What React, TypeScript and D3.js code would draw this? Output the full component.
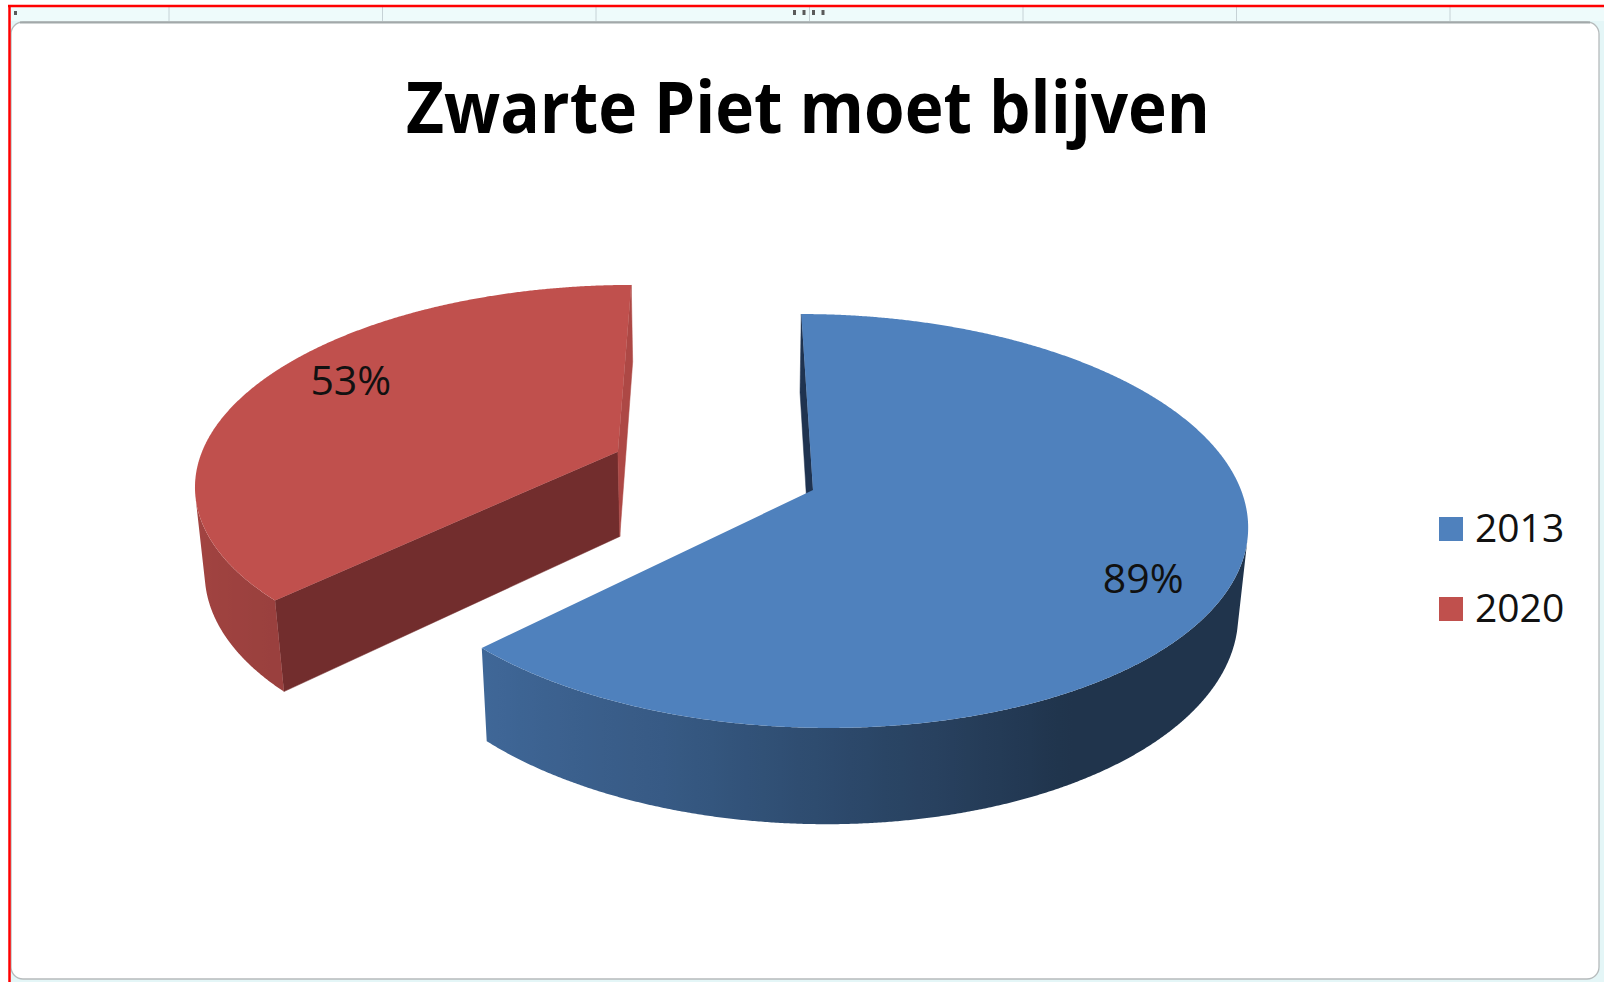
import React from 'react';
import * as d3 from 'd3';

// ---------- data ----------
const categories = ['2013', '2020'];
const values = [89, 53];
const valueLabels = ['89%', '53%'];
const explodedSlices = [false, true];
const chartTitle = 'Zwarte Piet moet blijven';

// ---------- styles ----------
const sliceColors = ['#4f81bd', '#c0504d'];
const cutColors = ['#1f3350', '#722d2d'];
const labelRadius = [0.82, 0.8];

const W = 1604;
const H = 982;

// ---------- 3D view ----------
const R = 428;
const THICK = 100;
const EXPLODE = 215;
const SIN = 0.4727;
const COS = Math.sqrt(1 - SIN * SIN);
const CAM_D = 2519;
const CAM_X = -90;
const AX = 723;
const AY = 490;
const camPos = [CAM_X, CAM_D * SIN, CAM_D * COS];

function project(x: number, y: number, z: number): [number, number] {
  const depth = z * COS + y * SIN;
  const s = CAM_D / (CAM_D - depth);
  const vert = z * SIN - y * COS;
  return [AX + (x - CAM_X) * s, AY + vert * s];
}

const rimShade = d3.scaleLinear<number>()
  .domain([150, 174, 199, 225, 260])
  .range([0.40, 0.54, 0.70, 0.80, 0.85])
  .clamp(true);

function shade(base: string, f: number) {
  const c = d3.rgb(base);
  return d3.rgb(c.r * f, c.g * f, c.b * f).formatHex();
}

const line = d3.line<[number, number]>().x(d => d[0]).y(d => d[1]);

function visible(n: number[], p: number[]) {
  return n[0] * (camPos[0] - p[0]) + n[1] * (camPos[1] - p[1]) + n[2] * (camPos[2] - p[2]) > 0;
}

export default function App() {
  const arcs = d3.pie<number>().sort(null)(values);
  const DEG = Math.PI / 180;

  const slices = arcs.map((a, i) => {
    const mid = (a.startAngle + a.endAngle) / 2;
    const e = explodedSlices[i] ? EXPLODE : 0;
    const ox = e * Math.sin(mid);
    const oz = -e * Math.cos(mid);
    const pt = (r: number, th: number, y: number) =>
      project(ox + r * Math.sin(th), y, oz - r * Math.cos(th));
    const wp = (r: number, th: number, y: number) =>
      [ox + r * Math.sin(th), y, oz - r * Math.cos(th)];

    const cutFaces: { d: string; fill: string }[] = [];
    const cuts = [
      { th: a.startAngle, n: [-Math.cos(a.startAngle), 0, -Math.sin(a.startAngle)] },
      { th: a.endAngle, n: [Math.cos(a.endAngle), 0, Math.sin(a.endAngle)] },
    ];
    cuts.forEach(c => {
      if (!visible(c.n, wp(R / 2, c.th, -THICK / 2))) return;
      const poly = [pt(0, c.th, 0), pt(R, c.th, 0), pt(R, c.th, -THICK), pt(0, c.th, -THICK)];
      const fill = c.n[0] > 0.95 ? shade(sliceColors[i], 0.9) : cutColors[i];
      cutFaces.push({ d: line(poly) + 'Z', fill });
    });

    // visible rim range
    const step = 0.25 * DEG;
    const n = Math.ceil((a.endAngle - a.startAngle) / step);
    const angles = d3.range(n + 1).map(k => a.startAngle + (k * (a.endAngle - a.startAngle)) / n);
    const vis = angles.filter(t => visible([Math.sin(t), 0, -Math.cos(t)], wp(R, t, -THICK / 2)));
    let rim: null | { d: string; x1: number; x2: number; stops: { o: number; c: string }[] } = null;
    if (vis.length > 1) {
      const topArc = vis.map(t => pt(R, t, 0));
      const botArc = vis.map(t => pt(R, t, -THICK)).reverse();
      const d = line([...topArc, ...botArc]) + 'Z';
      const xs = vis.map(t => pt(R, t, -THICK / 2)[0]);
      const x1 = d3.min(xs)!;
      const x2 = d3.max(xs)!;
      const sampled = vis.filter((_, k) => k % 8 === 0 || k === vis.length - 1);
      const stops = sampled
        .map(t => ({
          o: (pt(R, t, -THICK / 2)[0] - x1) / Math.max(1, x2 - x1),
          c: shade(sliceColors[i], rimShade(((t / DEG) % 360))),
        }))
        .sort((p, q) => p.o - q.o);
      rim = { d, x1, x2, stops };
    }

    // top face
    const topPts: [number, number][] = [pt(0, 0, 0), ...angles.map(t => pt(R, t, 0))];
    const top = line(topPts) + 'Z';

    const labelPos = pt(R * labelRadius[i], mid + 7 * DEG, 0);

    return { i, cutFaces, rim, top, labelPos, depth: oz * COS };
  });

  const order = [...slices].sort((p, q) => p.depth - q.depth);
  const gridXs = d3.range(169, W, 213.5);
  const dotXs = d3.range(4).map(k => 793 + k * 9.5);

  return (
    <svg width={W} height={H} style={{ position: 'absolute', left: 0, top: 0, display: 'block' }}
      fontFamily="'Open Sans', 'Noto Sans', sans-serif">
      <defs>
        {slices.map(s => s.rim && (
          <linearGradient key={s.i} id={'rim' + s.i} gradientUnits="userSpaceOnUse"
            x1={s.rim.x1} x2={s.rim.x2} y1={0} y2={0}>
            {s.rim.stops.map((st, k) => (
              <stop key={k} offset={st.o} stopColor={st.c} />
            ))}
          </linearGradient>
        ))}
      </defs>
      <rect x={0} y={0} width={W} height={H} fill="#ffffff" />
      {/* worksheet strip */}
      <rect x={10} y={7} width={W - 10} height={15} fill="#eefbfb" />
      {gridXs.map(x => (
        <line key={x} x1={x} x2={x} y1={7} y2={21} stroke="#c6d2d6" strokeWidth={1} />
      ))}
      {dotXs.map(x => (
        <rect key={x} x={x} y={10} width={3} height={5} fill="#5a5a5a" />
      ))}
      <rect x={14} y={11} width={3} height={4} fill="#5a5a5a" />
      {/* chart area */}
      <rect x={10} y={21} width={W - 10} height={H - 21} fill="#e4f6f7" />
      <rect x={11} y={22} width={1588} height={957} rx={12} fill="#ffffff" stroke="#b6bbbc" strokeWidth={1.3} />
      <line x1={20} x2={1590} y1={22.5} y2={22.5} stroke="#a2a9aa" strokeWidth={2} />
      {/* selection border */}
      <line x1={8} x2={W} y1={6} y2={6} stroke="#ff0000" strokeWidth={2.5} />
      <line x1={9.5} x2={9.5} y1={5} y2={H} stroke="#ff0000" strokeWidth={2.5} />

      {/* title */}
      <text x={808} y={133} textAnchor="middle" fontSize={71} fontWeight={700} fill="#000"
        textLength={804} lengthAdjust="spacingAndGlyphs">{chartTitle}</text>

      {/* pie */}
      {order.map(s => (
        <g key={s.i}>
          {s.cutFaces.map((f, k) => (
            <path key={k} d={f.d} fill={f.fill} stroke={f.fill} strokeWidth={0.5} strokeLinejoin="round" />
          ))}
          {s.rim && <path d={s.rim.d} fill={`url(#rim${s.i})`} />}
          <path d={s.top} fill={sliceColors[s.i]} />
        </g>
      ))}
      {slices.map(s => (
        <text key={'l' + s.i} x={s.labelPos[0]} y={s.labelPos[1]} dy="0.36em" textAnchor="middle"
          fontSize={41} fill="#111">{valueLabels[s.i]}</text>
      ))}

      {/* legend */}
      {categories.map((c, i) => (
        <g key={c} transform={`translate(1439, ${517 + i * 80})`}>
          <rect x={0} y={0} width={24} height={24} fill={sliceColors[i]} />
          <text x={36} y={25} fontSize={39} fill="#111">{c}</text>
        </g>
      ))}
    </svg>
  );
}
